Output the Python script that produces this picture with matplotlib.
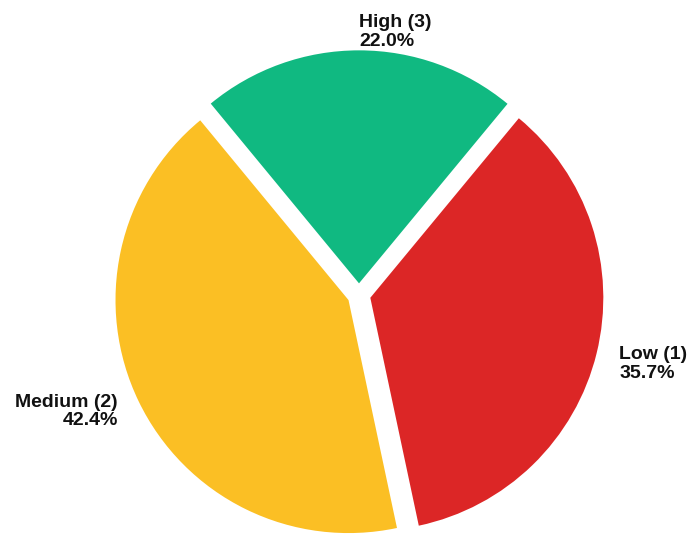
import matplotlib
matplotlib.use("Agg")
import matplotlib.pyplot as plt

categories = ["Low (1)", "Medium (2)", "High (3)"]
percentages = [35.7, 42.4, 22.0]
colors = ["#DC2626", "#FBBF24", "#10B981"]

labels = [f"{c}\n{p:.1f}%" for c, p in zip(categories, percentages)]

fig = plt.figure(figsize=(6.99, 5.47), dpi=100)
ax = fig.add_axes([0, 0, 1, 1])
wedges, texts = ax.pie(percentages, labels=labels, colors=colors, explode=[0.05] * 3,
                       startangle=50.4, counterclock=False, labeldistance=1.1,
                       textprops=dict(fontsize=14, fontweight="bold",
                                      family=["Liberation Sans", "DejaVu Sans"],
                                      color="#111111"))
s = 233.0
for i, t in enumerate(texts):
    t.set_linespacing(1.1)
    if i != 1:
        x, y = t.get_position()
        t.set_position((x, y - 5 / s))
ax.set_xlim(-359 / s, (699 - 359) / s)
ax.set_ylim(-(547 - 295) / s, 295 / s)
ax.set_aspect("auto")
ax.axis("off")
fig.savefig("out.png", dpi=100, facecolor="white")
